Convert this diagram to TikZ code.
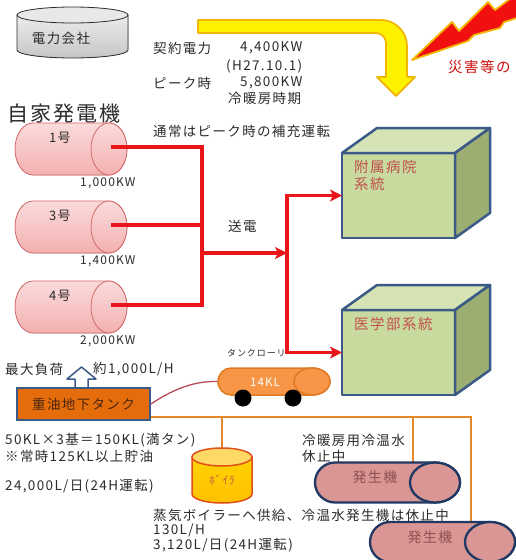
\documentclass[tikz,border=0pt]{standalone}
\usepackage{fontspec}
\setmainfont{Noto Sans CJK JP}[LetterSpace=10]
\usetikzlibrary{arrows.meta}
\definecolor{ink}{HTML}{2B2B2B}
\definecolor{pwr}{HTML}{E8161B}
\definecolor{gold}{HTML}{F2B705}
\definecolor{bolt}{HTML}{F01010}
\definecolor{pinkgen}{HTML}{F4B0B0}
\definecolor{pinkline}{HTML}{D46A6A}
\definecolor{boxfront}{HTML}{C9DA9E}
\definecolor{boxtop}{HTML}{D5E3B5}
\definecolor{boxside}{HTML}{9DAE73}
\definecolor{boxline}{HTML}{3B5B86}
\definecolor{boxtext}{HTML}{C0504D}
\definecolor{oil}{HTML}{E46C0A}
\definecolor{oiltext}{HTML}{4A2610}
\definecolor{lorrybody}{HTML}{F79646}
\definecolor{lorryline}{HTML}{E07A24}
\definecolor{pipecol}{HTML}{E58A2C}
\definecolor{hosecol}{HTML}{B84A5A}
\definecolor{boilbody}{HTML}{FFC000}
\definecolor{boiltop}{HTML}{FFD966}
\definecolor{boilline}{HTML}{E0501A}
\definecolor{coolgen}{HTML}{D99694}
\definecolor{coolline}{HTML}{1F3864}
\definecolor{cooltext}{HTML}{8E5050}
\begin{document}
\begin{tikzpicture}[x=1pt,y=-1pt,
    txt/.style={anchor=west,inner sep=0pt,text=ink,font=\fontsize{13.5}{17}\selectfont},
    kwlbl/.style={anchor=west,inner sep=0pt,text=ink,font=\fontsize{12}{14}\selectfont},
    power/.style={draw=pwr,line width=3.2pt},
    tofeed/.style={power,-{Stealth[length=12pt,width=12pt,inset=3pt]}},
    gen/.style={top color=pinkgen!45!white,bottom color=pinkgen,draw=pinkline,line width=0.8pt},
    face/.style={draw=boxline,line width=2.5pt,fill=boxfront,line join=round,
      minimum width=113pt,minimum height=85pt,inner sep=0pt,outer sep=0pt},
    boxpen/.style={draw=boxline,line width=2.5pt,line join=round},
    boxlbl/.style={anchor=north west,align=left,inner sep=0pt,text=boxtext,
      font=\fontsize{14.5}{17}\selectfont},
    oiltank/.style={fill=oil,draw=boxline,line width=1.8pt,minimum width=133pt,
      minimum height=32pt,inner sep=0pt,text=oiltext,font=\fontsize{13.5}{16}\selectfont},
    pipe/.style={draw=pipecol,line width=2.5pt},
    cool/.style={fill=coolgen,draw=coolline,line width=2.3pt},
    cooltxt/.style={inner sep=0pt,text=cooltext,font=\fontsize{14}{16}\selectfont}]
\useasboundingbox (0,0) rectangle (515,560);

% supply arrow and bolt
\filldraw[fill=yellow,draw=gold,line width=1.8pt,line join=round]
  (198,20) -- (381,20) .. controls (395.3,20) and (407,31.7) .. (407,46)
  -- (407,77) -- (415,77) -- (396,96) -- (377,77) -- (386,77) -- (386,43)
  .. controls (386,37.5) and (381.5,33) .. (376,33) -- (198,33) -- cycle;
\filldraw[fill=bolt,draw=gold,line width=1.8pt,line join=round]
  (412,60) -- (452,22) -- (459,31) -- (488,2) -- (495,10) -- (530,-16)
  -- (530,14) -- (504,22) -- (500,28) -- (474,35) -- (468,41) -- cycle;
\node[anchor=west,inner sep=0pt,text=bolt!85!black,font=\fontsize{14.5}{17}\selectfont]
  at (448,67) {災害等の};

% power company
\filldraw[top color=gray!15,bottom color=gray!45,draw=ink,line width=0.8pt]
  (17,15) -- (17,50) arc(180:0:55.5 and 8) -- (128,15) -- cycle;
\filldraw[fill=gray!18,draw=ink,line width=0.8pt] (72.5,15) ellipse (55.5 and 8);
\node[inner sep=0pt,text=ink,font=\fontsize{13.5}{16}\selectfont] at (61,38) {電力会社};

\node[txt] at (153,48) {契約電力};
\node[txt] at (240,48) {4,400KW};
\node[txt] at (226,66) {(H27.10.1)};
\node[txt] at (153,83) {ピーク時};
\node[txt] at (240,83) {5,800KW};
\node[txt] at (228,98) {冷暖房時期};

% own generators
\node[anchor=west,inner sep=0pt,text=ink,font=\fontsize{21}{21}\selectfont] at (7,114) {自家発電機};
\foreach \no/\y/\kw in {1/149/{1,000KW},3/227/{1,400KW},4/307/{2,000KW}}{
  \filldraw[gen] (33,\y-26) -- (109,\y-26) arc(-90:90:18 and 26)
    -- (33,\y+26) arc(90:270:18 and 26) -- cycle;
  \draw[gen] (109,\y) ellipse (18 and 26);
  \coordinate (g\no) at (111,\y-2);
  \node[inner sep=0pt,text=ink,font=\fontsize{13}{15}\selectfont] at (60,\y-11) {\no{}号};
  \node[kwlbl] at (80,\y+34) {\kw};
}
\node[txt] at (153,131) {通常はピーク時の補充運転};
\node[txt] at (228,226) {送電};

% supplied systems
\foreach \sys/\y in {hosp/153,med/310}{
  \node[face,anchor=north west] (\sys) at (342,\y) {};
  \filldraw[boxpen,fill=boxtop] (\sys.north west) -- ++(35,-25) -- ++(113,0)
    -- (\sys.north east) -- cycle;
  \filldraw[boxpen,fill=boxside] (\sys.north east) -- ++(35,-25) -- ++(0,85)
    -- (\sys.south east) -- cycle;
}
\node[boxlbl] at ([shift={(12,7)}]hosp.north west) {附属病院\\系統};
\node[boxlbl] at ([shift={(12,7)}]med.north west) {医学部系統};

\path (202,253) coordinate (split) (287,253) coordinate (feed);
\draw[power] (g1) -| (split) (g3) -| (split) (g4) -| (split);
\draw[tofeed] (split) -- (feed);
\draw[tofeed] (feed) |- (hosp.west);
\draw[tofeed] (feed) |- (med.west);

% fuel
\node[txt] at (5,369) {最大負荷};
\node[txt] at (93,369) {約1,000L/H};
\filldraw[fill=white,draw=boxline,line width=1.5pt,line join=round]
  (75,390) -- (75,379) -- (67,379) -- (81.5,367) -- (96,379) -- (88,379) -- (88,390);
\node[oiltank] (tank) at (83.5,404) {重油地下タンク};

\path (218,381.5) coordinate (lorry);
\node[anchor=west,inner sep=0pt,text=ink,font=\fontsize{9}{11}\selectfont] at (227,353) {タンクローリ};
\draw[draw=hosecol,line width=1.3pt] (tank.east) .. controls (178,386) and (198,381) .. (lorry);
\filldraw[fill=lorrybody,draw=lorryline,line width=1.5pt]
  (231,368) -- (312,368) arc(-90:90:18 and 13.5) -- (231,395) arc(90:270:13 and 13.5) -- cycle;
\filldraw[fill=lorrybody,draw=lorryline,line width=1.5pt] (312,381.5) ellipse (18 and 13.5);
\node[inner sep=0pt,text=white,font=\fontsize{11.5}{13}\selectfont] at (265,382) {14KL};
\fill (243,398) circle (8.5) (293,398) circle (8.5);

\path (222,417) coordinate (tb) (413,417) coordinate (tc1) (471,417) coordinate (tc2)
  (222,449) coordinate (boiler) (413,463) coordinate (c1) (471,522) coordinate (c2);
\draw[pipe] (tank.east |- tc2) -- (tc2) -- (c2);
\draw[pipe] (tb) -- (boiler);
\draw[pipe] (tc1) -- (c1);

\node[txt] at (5,440) {50KL×3基＝150KL(満タン)};
\node[txt] at (5,456) {※常時125KL以上貯油};
\node[txt] at (5,486) {24,000L/日(24H運転)};

\filldraw[top color=boilbody!70!yellow,bottom color=boilbody,draw=boilline,line width=1.5pt]
  (192,457) -- (192,494) arc(180:0:30 and 9) -- (252,457) -- cycle;
\filldraw[fill=boiltop,draw=boilline,line width=1.5pt] (222,457) ellipse (30 and 9);
\node[inner sep=0pt,text=boxtext,font=\fontsize{11}{13}\selectfont] at (222,480) {ﾎﾞｲﾗ};

% chillers
\node[txt] at (302,440) {冷暖房用冷温水};
\node[txt] at (302,456) {休止中};
\foreach \x/\y in {335/482.5,390/542}{
  \filldraw[cool] (\x,\y-20) -- (\x+100,\y-20) arc(-90:90:25 and 20)
    -- (\x,\y+20) arc(90:270:20 and 20) -- cycle;
  \draw[cool] (\x+100,\y) ellipse (25 and 20);
  \node[cooltxt] at (\x+40,\y-5) {発生機};
}
\node[txt] at (153,515) {蒸気ボイラーへ供給、冷温水発生機は休止中};
\node[txt] at (153,530) {130L/H};
\node[txt] at (153,545) {3,120L/日(24H運転)};
\end{tikzpicture}
\end{document}
